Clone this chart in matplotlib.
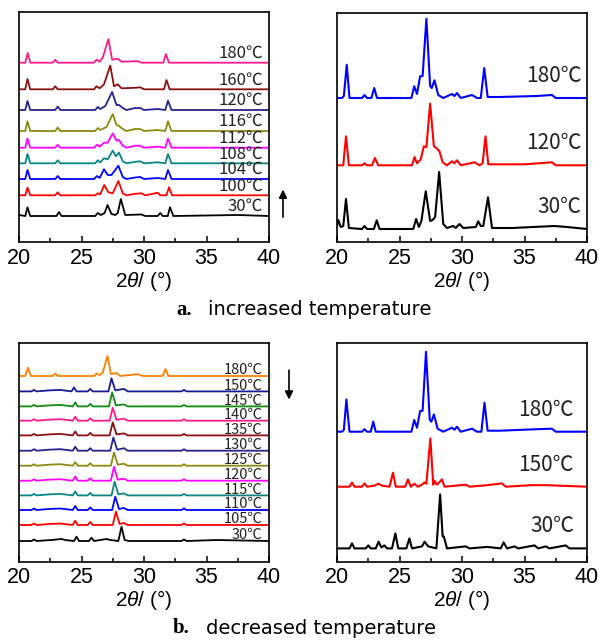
import matplotlib.pyplot as plt
import numpy as np

plt.rcParams['font.family'] = ['Liberation Sans', 'DejaVu Sans']
plt.rcParams['mathtext.fontset'] = 'custom'
plt.rcParams['mathtext.rm'] = 'Liberation Sans'
plt.rcParams['mathtext.it'] = 'Liberation Sans:italic'

# --- a. increased temperature, left panel (2theta, intensity above baseline) ---
a_labels = ['30℃', '100℃', '104℃', '108℃', '112℃', '116℃', '120℃', '160℃', '180℃']
a_colors = ['#000000', '#ff0000', '#0000ff', '#0a8585', '#ff00ff', '#8a8a10', '#23238f', '#8b1010', '#ff1a8c']
a_offsets = [26, 46.7, 63, 78.7, 94.3, 111, 132, 152.7, 179.3]
a_30 = [(20, 1), (20.5, 0), (20.68, 8.7), (20.9, 0), (23.0, 0), (23.2, 4), (23.4, 0), (26.1, 0), (26.3, 3), (26.55, 1),
        (26.85, 3), (27.08, 11), (27.4, 2), (27.7, 1), (27.9, 3), (28.15, 17), (28.5, 1), (29.8, 1.5), (30.1, 0),
        (31.1, 0), (31.3, 3), (31.5, 0), (31.9, 0), (32.08, 8.7), (32.35, 0), (37.5, 1), (40, 0)]
a_100 = [(20, 0), (20.5, 0), (20.68, 7.7), (20.9, 0), (22.9, 0), (23.1, 3), (23.3, 0), (26.1, 0), (26.3, 2), (26.5, 1),
         (26.82, 10.3), (27.15, 3), (27.5, 2), (27.95, 14.3), (28.3, 2), (28.6, 0), (29.3, 1.5), (29.8, 2), (30.1, 0),
         (31.1, 2.5), (31.3, 0), (31.8, 0), (32.0, 8), (32.25, 0), (40, 0)]
a_104 = [(20, 0), (20.5, 0), (20.68, 9), (20.9, 0), (22.9, 0), (23.1, 3), (23.3, 0), (26.0, 0), (26.25, 3), (26.45, 1),
         (26.8, 9.7), (27.1, 4), (27.4, 4), (27.95, 13.3), (28.3, 2), (28.6, 0), (29.3, 1.5), (29.7, 2), (30.0, 0),
         (31.1, 1), (31.7, 0), (31.92, 9), (32.2, 0), (40, 0)]
a_108 = [(20, 0), (20.5, 0), (20.68, 9.3), (20.9, 0), (22.9, 0), (23.1, 3), (23.3, 0), (26.1, 0), (26.3, 3), (26.5, 1),
         (26.8, 5), (27.1, 4), (27.5, 12.7), (27.75, 7), (28.0, 10.7), (28.3, 2), (28.6, 0), (29.3, 1.5), (29.7, 2),
         (30.0, 0), (31.1, 1), (31.7, 0), (31.92, 9.3), (32.2, 0), (40, 0)]
a_112 = [(20, 0), (20.5, 0), (20.68, 9.3), (20.9, 0), (22.9, 0), (23.1, 3), (23.3, 0), (26.0, 0), (26.25, 3), (26.45, 1),
         (26.8, 5), (27.1, 5), (27.5, 14.3), (27.8, 7), (28.0, 7.7), (28.3, 2), (28.6, 0), (29.3, 2), (29.7, 2),
         (30.0, 0), (31.1, 1), (31.7, 0), (31.92, 9), (32.2, 0), (40, 0)]
a_116 = [(20, 0), (20.5, 0), (20.68, 9.7), (20.9, 0), (22.9, 0), (23.1, 3.5), (23.3, 0), (26.1, 0), (26.3, 3), (26.5, 1),
         (27.0, 4), (27.5, 17), (27.8, 6), (28.0, 5), (28.3, 2), (28.6, 0), (29.3, 2), (29.7, 2), (30.0, 0),
         (31.1, 1), (31.7, 0), (31.92, 9.7), (32.2, 0), (40, 0)]
a_120 = [(20, 0), (20.5, 0), (20.68, 9), (20.9, 0), (22.9, 0), (23.1, 3.5), (23.3, 0), (26.1, 0), (26.3, 3), (26.5, 1),
         (26.9, 4), (27.45, 18), (27.8, 5), (28.0, 5), (28.3, 2), (28.6, 0), (29.3, 2), (29.7, 2), (30.0, 0),
         (31.1, 1), (31.7, 0), (31.92, 9.3), (32.2, 0), (40, 0)]
a_160 = [(20, 0), (20.5, 0), (20.68, 10.3), (20.9, 0), (22.7, 0), (22.9, 3), (23.1, 0), (26.0, 0), (26.2, 3), (26.45, 1),
         (26.8, 5), (27.3, 23.7), (27.6, 3), (27.9, 5), (28.2, 1), (29.3, 1.5), (29.7, 2), (30.0, 0), (31.6, 0),
         (31.8, 9.3), (32.05, 0), (40, 0)]
a_180 = [(20, 0), (20.5, 0), (20.7, 9.7), (20.9, 0), (22.7, 0), (22.9, 3), (23.1, 0), (26.0, 0), (26.2, 3), (26.45, 1),
         (26.7, 5), (27.15, 23.7), (27.45, 3), (27.9, 4), (28.2, 1), (29.5, 1.5), (29.8, 0), (31.55, 0), (31.75, 8.7),
         (32.0, 0), (40, 0)]
a_curves = [a_30, a_100, a_104, a_108, a_112, a_116, a_120, a_160, a_180]

# --- a. right panel ---
ar_labels = ['30℃', '120℃', '180℃']
ar_colors = ['#000000', '#ff0000', '#0000ff']
ar_offsets = [13, 76.7, 144]
ar_30 = [(20, 3), (20.1, 9), (20.3, 2), (20.5, 3), (20.72, 30), (20.95, 1), (22.0, 0), (22.2, 3), (22.4, 0), (22.95, 0),
         (23.18, 8.7), (23.4, 0), (26.1, 0), (26.33, 10), (26.55, 2), (26.75, 8), (27.1, 37.7), (27.45, 8), (27.65, 9),
         (27.85, 12), (28.17, 57), (28.5, 5), (28.8, 1), (29.3, 3), (29.5, 1), (29.8, 5), (30.1, 1), (31.1, 2),
         (31.3, 7.7), (31.5, 3), (31.7, 3), (32.08, 31.7), (32.4, 1), (34.0, 1), (37.4, 3), (38.4, 2), (40, 0)]
ar_120 = [(20, 0), (20.5, 0), (20.72, 29), (20.95, 0), (22.0, 0), (22.2, 2), (22.4, 0), (22.8, 0), (23.03, 7.3),
          (23.3, 0), (26.0, 0), (26.2, 8.3), (26.4, 2), (26.7, 6), (26.95, 19), (27.15, 18), (27.45, 61.7),
          (27.75, 19), (27.95, 17.3), (28.2, 14), (28.45, 3), (28.8, 0), (29.2, 4), (29.4, 2), (29.6, 5), (29.9, 0),
          (31.0, 3), (31.4, 0), (31.65, 2), (31.88, 29), (32.1, 1), (35.0, 1), (37.2, 3), (37.5, 0), (40, 0)]
ar_180 = [(20, 0), (20.4, 0), (20.55, 2), (20.78, 33.3), (21.0, 0), (22.0, 0), (22.2, 3), (22.4, 0), (22.75, 0),
          (22.98, 10), (23.2, 0), (25.95, 0), (26.18, 11.7), (26.4, 4), (26.65, 21.7), (26.85, 22), (27.15, 79.3),
          (27.45, 12), (27.58, 10), (27.8, 17.7), (28.1, 3), (28.5, 0), (29.2, 4), (29.4, 2), (29.6, 5), (29.9, 0),
          (30.8, 3), (31.2, 0), (31.5, 0), (31.78, 30), (32.05, 1), (33, 1), (36, 2), (37.2, 3), (37.5, 0), (40, 0)]
ar_curves = [ar_30, ar_120, ar_180]

# --- b. decreased temperature, left panel ---
b_labels = ['30℃', '105℃', '110℃', '115℃', '120℃', '125℃', '130℃', '135℃', '140℃', '145℃', '150℃', '180℃']
b_colors = ['#000000', '#ff0000', '#0000ff', '#0a8585', '#ff00ff', '#8a8a10', '#23238f', '#8b1010', '#ff1a8c',
            '#108a10', '#1a1a99', '#ff8000']
b_offsets = [20.7, 36.7, 51.7, 66.3, 81, 96, 111, 126.3, 141, 155.3, 170.3, 185.7]
b_30 = [(20, 0), (21.0, 0), (21.2, 1.5), (21.4, 0), (22.6, 1), (23.4, 2), (23.7, 1), (24.4, 0), (24.6, 4.3), (24.8, 0),
        (25.6, 0), (25.8, 3.3), (26.0, 0), (27.0, 2), (27.3, 1), (27.95, 0), (28.2, 14.3), (28.45, 1), (28.8, 0),
        (33.0, 0), (33.2, 1.5), (33.4, 0), (35.8, 1), (40, 0)]
b_105 = [(20, 0), (21.0, 0), (21.2, 1.5), (21.4, 0), (22.4, 1), (23.3, 1.5), (24.3, 0), (24.5, 4.3), (24.7, 0),
         (25.5, 0), (25.7, 3), (25.9, 0), (27.5, 0), (27.75, 13.3), (28.05, 1), (28.4, 2), (28.7, 0), (33.0, 0),
         (33.2, 1.5), (33.4, 0), (40, 0)]
b_110 = [(20, 0), (21.0, 0), (21.2, 1.5), (21.4, 0), (22.4, 1), (23.3, 1.5), (24.3, 0), (24.5, 4), (24.7, 0),
         (25.5, 0), (25.7, 2.5), (25.9, 0), (27.45, 0), (27.7, 13.3), (28.0, 1), (28.4, 2), (28.7, 0), (33.0, 0),
         (33.2, 1.5), (33.4, 0), (40, 0)]
b_115 = [(20, 0), (21.0, 0), (21.2, 1.5), (21.4, 0), (22.4, 1), (23.3, 1.5), (24.3, 0), (24.5, 4), (24.7, 0),
         (25.5, 0), (25.7, 2.5), (25.9, 0), (27.4, 0), (27.65, 13.7), (27.95, 1), (28.4, 2), (28.7, 0), (33.0, 0),
         (33.2, 1.5), (33.4, 0), (40, 0)]
b_120 = [(20, 0), (21.0, 0), (21.2, 1.5), (21.4, 0), (22.4, 1), (23.3, 1.5), (24.3, 0), (24.5, 4.3), (24.7, 0),
         (25.5, 0), (25.7, 2.5), (25.9, 0), (27.35, 0), (27.6, 14), (27.9, 1), (28.4, 2), (28.7, 0), (33.0, 0),
         (33.2, 1.5), (33.4, 0), (40, 0)]
b_125 = [(20, 0), (21.0, 0), (21.2, 1.5), (21.4, 0), (22.4, 1), (23.3, 1.5), (24.3, 0), (24.5, 3.5), (24.7, 0),
         (25.5, 0), (25.7, 2.5), (25.9, 0), (27.35, 0), (27.6, 13.3), (27.9, 1), (28.4, 2), (28.7, 0), (33.0, 0),
         (33.2, 1.5), (33.4, 0), (40, 0)]
b_130 = [(20, 0), (21.0, 0), (21.2, 1.5), (21.4, 0), (22.4, 1), (23.3, 1.5), (24.3, 0), (24.5, 4), (24.7, 0),
         (25.5, 0), (25.7, 2.5), (25.9, 0), (27.3, 0), (27.55, 13.3), (27.85, 1), (28.4, 2.5), (28.7, 0), (33.0, 0),
         (33.2, 1.5), (33.4, 0), (40, 0)]
b_135 = [(20, 0), (21.0, 0), (21.2, 1.5), (21.4, 0), (22.4, 1), (23.3, 1.5), (24.3, 0), (24.5, 4), (24.7, 0),
         (25.5, 0), (25.7, 2.5), (25.9, 0), (27.25, 0), (27.5, 13), (27.8, 1), (28.4, 2), (28.7, 0), (33.0, 0),
         (33.2, 1.5), (33.4, 0), (40, 0)]
b_140 = [(20, 0), (21.0, 0), (21.2, 1.5), (21.4, 0), (22.4, 1), (23.3, 1.5), (24.3, 0), (24.5, 4), (24.7, 0),
         (25.5, 0), (25.7, 2.5), (25.9, 0), (27.25, 0), (27.5, 13), (27.8, 1), (28.4, 2), (28.7, 0), (33.0, 0),
         (33.2, 1.5), (33.4, 0), (40, 0)]
b_145 = [(20, 0), (21.0, 0), (21.2, 1.5), (21.4, 0), (22.4, 1), (23.3, 1.5), (24.3, 0), (24.5, 4), (24.7, 0),
         (25.5, 0), (25.7, 2.5), (25.9, 0), (27.2, 0), (27.45, 14), (27.75, 1), (28.4, 2), (28.7, 0), (33.0, 0),
         (33.2, 1.5), (33.4, 0), (40, 0)]
b_150 = [(20, 0), (21.0, 0), (21.2, 1.5), (21.4, 0), (22.4, 1), (23.3, 1.5), (24.2, 0), (24.4, 4), (24.6, 0),
         (25.5, 0), (25.7, 2.5), (25.9, 0), (27.15, 0), (27.4, 13), (27.7, 1), (28.4, 2.5), (28.7, 0), (33.0, 0),
         (33.2, 1.5), (33.4, 0), (40, 0)]
b_180 = [(20, 0), (20.5, 0), (20.72, 8.3), (20.95, 0), (22.7, 0), (22.9, 2.5), (23.1, 0), (26.0, 0), (26.2, 2.5),
         (26.45, 1), (26.7, 3.5), (27.08, 20), (27.35, 2), (27.8, 3), (28.1, 0), (29.3, 1.5), (29.6, 1.5), (29.9, 0),
         (31.5, 0), (31.72, 7), (31.95, 0), (40, 0)]
b_curves = [b_30, b_105, b_110, b_115, b_120, b_125, b_130, b_135, b_140, b_145, b_150, b_180]

# --- b. right panel ---
br_labels = ['30℃', '150℃', '180℃']
br_colors = ['#000000', '#ff0000', '#0000ff']
br_offsets = [13.3, 75, 130]
br_30 = [(20, 0), (21.0, 0), (21.2, 5), (21.4, 0), (22.3, 0), (22.5, 3), (22.7, 0), (23.1, 0), (23.33, 6.7), (23.55, 1),
         (23.8, 3), (24.0, 0), (24.4, 0), (24.67, 15), (24.9, 0), (25.55, 0), (25.79, 10), (26.0, 0), (26.8, 2),
         (27.0, 6.7), (27.3, 2), (27.95, 0), (28.25, 54), (28.45, 12), (28.55, 11.7), (28.8, 0), (30.3, 2), (30.6, 0),
         (32, 1.5), (33.1, 0), (33.33, 6), (33.6, 0), (34.2, 2), (34.5, 0), (35.8, 3), (36.1, 0), (36.7, 2),
         (37.0, 0), (38.3, 3), (38.6, 0), (40, 0)]
br_150 = [(20, 0), (21.0, 0), (21.2, 4), (21.4, 0), (22.0, 0), (22.2, 3.3), (22.4, 0), (23.0, 1), (23.3, 3), (23.6, 1),
          (24.2, 0), (24.48, 14), (24.7, 0), (25.45, 0), (25.68, 7.3), (25.9, 0), (26.2, 3), (26.45, 0), (26.8, 2),
          (27.0, 4.3), (27.15, 3), (27.47, 48.3), (27.7, 2), (27.8, 6), (28.0, 2), (28.4, 7.3), (28.6, 0), (30.3, 2),
          (30.6, 0), (32.0, 1.5), (33.2, 3.3), (33.5, 0), (35.5, 1.5), (36.8, 1.5), (40, 0)]
br_180 = [(20, 0), (20.4, 0), (20.55, 2), (20.75, 32.3), (21.0, 0), (22.0, 0), (22.2, 2.5), (22.4, 0), (22.7, 0),
          (22.9, 10), (23.1, 0), (25.95, 0), (26.18, 11.7), (26.4, 4), (26.65, 20.7), (26.85, 21), (27.12, 80),
          (27.42, 12), (27.55, 10), (27.75, 17.3), (28.05, 3), (28.5, 0), (29.2, 4), (29.4, 2), (29.6, 5), (29.9, 0),
          (30.8, 3), (31.2, 0), (31.55, 0), (31.8, 29), (32.05, 1), (33, 1), (36, 2.5), (37.2, 3), (37.5, 0), (40, 0)]
br_curves = [br_30, br_150, br_180]

LABEL_FONT = ['Liberation Sans Narrow', 'Noto Sans CJK SC', 'DejaVu Sans']


def draw_panel(ax, curves, offsets, colors, labels, ymax, lw, label_x, label_dy, label_size):
    for pts, off, col, lab in zip(curves, offsets, colors, labels):
        x = np.array([p[0] for p in pts])
        y = np.array([p[1] for p in pts]) + off
        ax.plot(x, y, color=col, lw=lw, solid_joinstyle='round')
        ax.text(label_x, off + label_dy, lab, ha='right', va='center', fontsize=label_size,
                family=LABEL_FONT, color='#222222')
    ax.set_xlim(20, 40)
    ax.set_ylim(0, ymax)
    ax.set_yticks([])
    ax.set_xticks([20, 25, 30, 35, 40])
    ax.set_xticks([22.5, 27.5, 32.5, 37.5], minor=True)
    ax.tick_params(axis='x', which='major', direction='in', length=4, width=1.1, labelsize=15.5, pad=4)
    ax.tick_params(axis='x', which='minor', direction='in', length=3, width=1.1)
    for s in ax.spines.values():
        s.set_linewidth(1.2)
    ax.set_xlabel(r'2$\theta$/ (°)', fontsize=15, labelpad=0)


fig = plt.figure(figsize=(5.99, 6.42), dpi=100)
ax1 = fig.add_axes([19 / 599, 400 / 642, 250 / 599, 230 / 642])
ax2 = fig.add_axes([337 / 599, 400 / 642, 250 / 599, 229 / 642])
ax3 = fig.add_axes([19 / 599, 80.3 / 642, 250 / 599, 218.3 / 642])
ax4 = fig.add_axes([337 / 599, 80.3 / 642, 250 / 599, 218.3 / 642])

draw_panel(ax1, a_curves, a_offsets, a_colors, a_labels, 230, 1.3, 39.5, 9.5, 12)
draw_panel(ax2, ar_curves, ar_offsets, ar_colors, ar_labels, 229, 1.5, 39.55, 22, 15)
draw_panel(ax3, b_curves, b_offsets, b_colors, b_labels, 218.3, 1.3, 39.5, 6, 10.5)
draw_panel(ax4, br_curves, br_offsets, br_colors, br_labels, 218.3, 1.5, 38.95, 22, 15)

# temperature direction arrows
ax1.annotate('', xy=(1.056, 0.24), xytext=(1.056, 0.096), xycoords='axes fraction',
             arrowprops=dict(arrowstyle='-|>', color='black', lw=1.2, mutation_scale=12), annotation_clip=False)
ax3.annotate('', xy=(1.08, 0.73), xytext=(1.08, 0.89), xycoords='axes fraction',
             arrowprops=dict(arrowstyle='-|>', color='black', lw=1.2, mutation_scale=12), annotation_clip=False)

# captions
fig.text(176 / 599, 1 - 310 / 642, 'a.', ha='left', va='center', fontsize=15, fontweight='bold',
         family='Liberation Serif')
fig.text(208 / 599, 1 - 310 / 642, 'increased temperature', ha='left', va='center', fontsize=14,
         family='DejaVu Sans')
fig.text(173 / 599, 1 - 628 / 642, 'b.', ha='left', va='center', fontsize=15, fontweight='bold',
         family='Liberation Serif')
fig.text(206 / 599, 1 - 628 / 642, 'decreased temperature', ha='left', va='center', fontsize=14,
         family='DejaVu Sans')

fig.savefig('out.png', dpi=100)
plt.close(fig)
